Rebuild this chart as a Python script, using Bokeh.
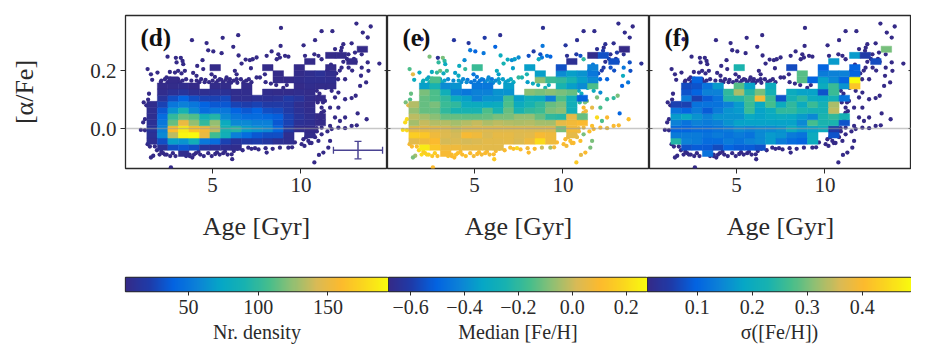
import numpy as np
from bokeh.plotting import figure
from bokeh.layouts import row, column
from bokeh.models import LinearColorMapper, FixedTicker, Label, Span, ColumnDataSource
from bokeh.embed import file_html
from bokeh.resources import INLINE

N = None
# grid of the binned maps
x_start, x_step = 1.28, 0.595
y_start, y_step = -0.0966, 0.02115

counts = [
 [N,N,N,8,N,N,N,N,N,N,N,N,N,N,N,N,N,N,N,N,N],
 [N,12,30,35,30,15,12,10,8,N,N,N,N,N,N,N,N,N,N,N,N],
 [10,30,70,65,85,50,45,25,15,20,22,18,12,10,N,N,N,N,N,N,N],
 [12,60,135,190,195,150,105,85,55,45,35,30,30,10,N,7,N,N,N,N,N],
 [15,55,160,185,165,155,135,90,95,70,65,60,42,20,8,6,N,N,N,N,N],
 [12,50,115,150,125,100,125,80,60,60,55,55,35,25,12,10,6,N,N,N,N],
 [10,45,100,115,110,85,95,60,50,45,45,42,38,25,15,10,6,N,N,N,N],
 [10,35,65,90,60,45,50,50,40,35,40,30,28,20,12,8,N,N,N,N,N],
 [8,25,50,55,50,40,35,35,25,22,25,20,20,18,10,7,N,N,N,N,N],
 [N,15,30,40,30,25,25,28,10,10,12,12,13,20,15,8,6,N,N,N,N],
 [N,8,12,15,10,10,12,12,8,8,N,8,7,7,8,7,N,N,N,N,N],
 [N,6,7,8,6,N,7,7,N,6,N,N,N,N,6,8,7,7,N,N,N],
 [N,N,6,N,N,N,N,N,N,N,N,N,6,6,8,10,10,9,N,N,N],
 [N,N,N,N,N,N,N,N,N,N,N,N,6,N,7,9,12,8,N,N,N],
 [N,N,N,N,N,N,6,N,N,N,N,6,N,N,6,N,N,6,N,N,N],
 [N,N,N,N,N,N,N,N,N,N,N,N,N,N,N,6,N,N,N,6,N],
 [N,N,N,N,N,N,N,N,N,N,N,N,N,N,N,N,N,6,6,N,N],
 [N,N,N,N,N,N,N,N,N,N,N,N,N,N,N,N,N,N,N,N,6],
]
median_feh = [
 [N,N,N,.09,N,N,N,N,N,N,N,N,N,N,N,N,N,N,N,N,N],
 [N,.24,.14,.07,.07,.05,.05,.04,.04,N,N,N,N,N,N,N,N,N,N,N,N],
 [.04,.07,.1,.01,.02,.01,.02,.04,.04,.05,.02,.07,.2,.07,N,N,N,N,N,N,N],
 [.16,.14,.07,.03,.01,.09,.07,.02,.05,.05,.03,.04,.09,.07,N,.05,N,N,N,N,N],
 [.05,.05,.04,.02,.0,.02,.03,.03,.03,.03,.03,.02,.02,.03,-.1,.08,N,N,N,N,N],
 [-.05,-.01,-.03,-.03,-.05,-.03,-.01,-.04,-.02,-.03,-.04,-.03,-.05,-.05,.05,.08,.1,N,N,N,N],
 [-.02,-.05,-.08,-.12,-.12,-.13,-.13,-.12,-.1,-.1,-.07,-.07,-.12,-.2,-.22,.05,-.12,N,N,N,N],
 [-.07,-.12,-.12,-.2,-.25,-.25,-.25,-.15,-.25,-.12,-.25,-.2,-.18,-.1,-.08,-.28,N,N,N,N,N],
 [-.03,-.12,-.1,-.18,-.2,-.3,-.3,-.32,-.3,-.15,-.3,-.25,-.2,-.12,-.1,-.28,N,N,N,N,N],
 [N,-.12,-.15,-.2,-.3,-.35,-.42,-.38,-.38,-.17,-.35,-.28,-.3,-.42,-.15,-.28,-.5,N,N,N,N],
 [N,-.1,-.15,-.28,-.42,-.45,-.42,-.42,-.38,-.38,N,-.08,-.1,-.08,-.1,-.12,N,N,N,N,N],
 [N,-.35,-.25,-.4,-.38,N,-.45,-.45,N,-.35,N,N,N,N,-.25,-.35,-.4,-.15,N,N,N],
 [N,N,-.15,N,N,N,N,N,N,N,N,N,-.08,-.18,-.2,-.25,-.35,-.4,N,N,N],
 [N,N,N,N,N,N,N,N,N,N,N,N,-.35,N,-.4,-.35,-.38,-.45,N,N,N],
 [N,N,N,N,N,N,-.18,N,N,N,N,-.35,N,N,-.55,N,N,-.42,N,N,N],
 [N,N,N,N,N,N,N,N,N,N,N,N,N,N,N,-.65,N,N,N,-.55,N],
 [N,N,N,N,N,N,N,N,N,N,N,N,N,N,N,N,N,-.67,-.55,N,N],
 [N,N,N,N,N,N,N,N,N,N,N,N,N,N,N,N,N,N,N,N,-.68],
]
sigma_feh = [
 [N,N,N,.12,N,N,N,N,N,N,N,N,N,N,N,N,N,N,N,N,N],
 [N,.08,.09,.09,.07,.1,.09,.09,.08,N,N,N,N,N,N,N,N,N,N,N,N],
 [.24,.14,.13,.11,.11,.13,.12,.14,.15,.17,.13,.11,.1,.2,N,N,N,N,N,N,N],
 [.13,.13,.13,.12,.13,.12,.13,.12,.15,.17,.16,.13,.12,.2,N,.08,N,N,N,N,N],
 [.1,.1,.11,.11,.12,.13,.15,.14,.15,.15,.16,.2,.17,.18,.2,.05,N,N,N,N,N],
 [.14,.12,.14,.13,.14,.16,.18,.18,.18,.18,.18,.18,.15,.27,.23,.23,.08,N,N,N,N],
 [.17,.19,.16,.14,.16,.16,.16,.19,.18,.19,.2,.19,.17,.15,.23,.25,.22,N,N,N,N],
 [.12,.1,.13,.09,.13,.16,.17,.26,.18,.2,.25,.25,.23,.22,.22,.34,N,N,N,N,N],
 [.06,.06,.12,.12,.12,.14,.17,.26,.19,.27,.2,.25,.2,.26,.22,.33,N,N,N,N,N],
 [N,.13,.06,.09,.12,.24,.24,.27,.39,.26,.08,.22,.25,.2,.19,.22,.12,N,N,N,N],
 [N,.08,.1,.14,.14,.25,.33,.24,.3,.22,N,.2,.18,.18,.08,.26,N,N,N,N,N],
 [N,.07,.08,.12,.17,N,.28,.18,N,.2,N,N,N,N,.2,.26,.16,.42,N,N,N],
 [N,N,.1,N,N,N,N,N,N,N,N,N,.28,.1,.18,.15,.1,.49,N,N,N],
 [N,N,N,N,N,N,N,N,N,N,N,N,.28,N,.13,.14,.14,.1,N,N,N],
 [N,N,N,N,N,N,.23,N,N,N,N,.07,N,N,.1,N,N,.1,N,N,N],
 [N,N,N,N,N,N,N,N,N,N,N,N,N,N,N,.17,N,N,N,.07,N],
 [N,N,N,N,N,N,N,N,N,N,N,N,N,N,N,N,N,.17,.05,N,N],
 [N,N,N,N,N,N,N,N,N,N,N,N,N,N,N,N,N,N,N,N,.3],
]

star_age = [
 8.87,13.14,13.95,11.17,11.78,13.5,13.78,6.45,5.57,3.83,
 2.0,4.66,6.17,8.85,10.15,10.8,12.4,12.87,12.31,4.75,
 5.04,5.51,8.34,6.47,8.72,2.45,2.92,3.2,3.3,4.43,
 4.13,2.96,3.34,1.32,1.51,1.88,2.58,2.87,3.05,3.24,
 3.43,4.47,3.9,4.09,4.94,1.58,2.07,2.39,6.87,6.64,
 7.11,7.49,7.27,7.17,6.26,6.36,5.79,5.98,6.36,5.13,
 5.41,7.68,7.96,7.49,9.1,9.29,8.81,8.06,8.63,10.76,
 10.99,10.23,11.17,11.93,12.27,12.69,13.06,13.44,13.78,14.44,
 13.44,13.82,13.4,13.69,13.35,13.1,12.87,12.5,12.12,11.74,
 11.93,11.65,11.36,11.17,11.17,12.12,12.5,13.21,13.72,11.93,
 12.21,11.65,11.74,12.12,12.5,12.87,13.16,11.17,10.89,10.42,
 10.14,11.17,10.99,11.65,11.55,11.27,11.02,10.76,10.04,9.66,
 9.29,8.81,8.06,7.4,7.02,6.08,6.11,2.64,1.64,1.51,
 1.17,1.07,.94,1.17,1.32,1.45,1.73,
 1.85,2.0,2.2,2.4,2.6,2.75,2.9,3.5,3.7,3.85,
 4.05,4.3,4.5,4.75,4.95,5.15,5.4,5.6,5.85,6.4,
 6.7,7.2,7.6,8.0,8.4,9.5,10.2,10.5,
 2.1,2.3,3.3,3.5,3.8,4.1,4.35,4.6,4.8,5.0,
 5.3,5.6,5.9,6.2,6.6,6.9,7.2,
 1.1,1.35,1.4,1.25,
 10.9,11.0,11.3,11.4,11.1,11.25,11.5,10.7,10.8,10.9,
 10.6,10.3,12.0,12.2,12.1,12.3,12.4,12.6,12.7,12.5,
 12.9,13.0,13.1,11.9,11.7,11.5,
 2.6,2.85,3.05,3.15,2.45,4.25,4.55,5.2,5.5,5.75,
 6.05,6.4,6.75,7.05,8.0,8.3,9.0,8.6,9.2,2.1,
 2.3,3.7,4.2,5.25,5.7,6.2,3.95,10.95,11.15,11.05,
 11.25,11.3,
]
star_alpha = [
 .347,.362,.352,.336,.336,.331,.314,.322,.313,.305,
 .308,.295,.282,.285,.287,.305,.291,.294,.279,.27,
 .266,.26,.266,.252,.256,.248,.244,.244,.233,.236,
 .216,.228,.222,.205,.187,.193,.195,.193,.199,.19,
 .199,.205,.192,.182,.187,.168,.161,.176,.238,.224,
 .236,.245,.239,.208,.199,.187,.176,.17,.17,.178,
 .17,.176,.187,.176,.251,.248,.245,.251,.239,.256,
 .251,.251,.239,.274,.268,.256,.262,.256,.228,.224,
 .21,.199,.182,.159,.147,.113,.105,.101,.124,.13,
 .107,.072,.095,.072,.055,.072,.038,.052,.032,.038,
 .026,.009,-.002,.003,.001,.009,.011,.003,.001,-.043,
 -.037,-.02,-.043,-.043,-.066,-.083,-.091,-.117,-.054,-.048,
 -.066,-.066,-.083,-.068,-.066,-.089,-.106,-.134,-.094,-.1,
 .032,.021,-.005,-.006,-.054,-.062,-.062,
 -.075,-.09,-.085,-.09,-.095,-.085,-.095,-.095,-.09,-.1,
 -.085,-.09,-.095,-.085,-.095,-.088,-.09,-.085,-.09,-.07,
 -.075,-.07,-.072,-.068,-.07,-.065,-.06,-.05,
 .165,.17,.165,.17,.165,.165,.17,.168,.16,.165,
 .165,.16,.16,.165,.17,.165,.16,
 .09,.1,.12,.08,
 .13,.11,.15,.14,.03,.02,-.01,-.02,-.03,-.01,
 -.05,-.03,.19,.2,.17,.21,.23,.24,.21,.17,
 .2,.24,.23,.25,.22,.2,
 .172,.165,.17,.16,.16,.16,.16,.158,.168,.168,
 .158,.158,.16,.17,.16,.155,.14,.15,.15,-.08,
 -.09,-.095,-.08,-.082,-.08,-.078,-.09,.09,.05,.12,
 .09,.06,
]
star_feh = [
 -.65,-.67,-.68,-.67,-.67,-.67,-.67,-.65,-.6,-.62,
 -.6,-.62,-.5,-.45,-.62,-.65,-.65,-.66,-.66,-.45,
 -.5,-.45,-.6,-.3,-.55,-.1,-.65,-.1,-.2,-.4,
 -.3,-.2,-.3,-.15,.05,-.3,-.3,-.2,-.12,-.3,
 -.2,-.2,-.35,-.3,-.45,-.3,-.25,-.35,-.3,-.25,
 -.4,-.4,-.35,-.35,-.3,-.35,-.4,-.45,-.35,-.45,
 -.4,-.25,-.25,-.2,-.45,-.5,-.45,-.55,-.3,-.6,
 -.55,-.65,-.2,-.65,-.6,-.65,-.6,-.65,-.55,-.65,
 -.45,-.55,-.3,-.45,-.5,-.1,-.2,-.2,-.4,-.3,
 -.1,.05,-.1,.1,.08,-.15,.1,-.5,.12,.2,
 -.15,.12,.1,.1,.05,.1,.1,.08,.05,.12,
 .1,-.1,.12,-.1,-.1,.1,.05,.15,.1,.1,
 -.05,0,.1,.2,.12,.1,.15,.1,-.05,-.1,
 .2,.2,.2,.2,.1,.1,.12,
 .18,.2,.16,.18,.14,.16,.12,.14,.12,.1,
 .12,.1,.12,.1,.08,.1,.08,.1,.08,.12,
 .1,.12,.1,.08,.1,.08,.08,.08,
 -.3,-.3,-.35,-.4,-.4,-.35,-.4,-.45,-.45,-.45,
 -.45,-.4,-.4,-.4,-.35,-.35,-.3,
 -.1,-.15,-.12,.05,
 -.3,-.2,-.4,-.3,.1,.1,.12,.05,.05,.08,
 .1,.08,-.55,-.6,-.5,-.6,-.65,-.62,-.55,-.5,
 -.55,-.62,-.6,-.55,-.45,-.5,
 -.3,-.35,-.35,-.3,-.25,-.4,-.4,-.45,-.45,-.4,
 -.4,-.35,-.35,-.3,-.35,-.3,-.25,-.3,-.3,.16,
 .18,.1,.1,.1,.1,.1,.12,-.2,.05,-.3,
 -.1,.08,
]

age_ticks = [5, 10]
alpha_ticks = [0.0, 0.2]
alpha_labels = ["0.0", "0.2"]
density_ticks = [50, 100, 150]
median_ticks = [-0.6, -0.4, -0.2, 0.0, 0.2]
sigma_ticks = [0.1, 0.2, 0.3, 0.4]
median_labels = ["\u22120.6", "\u22120.4", "\u22120.2", "0.0", "0.2"]
err_age, err_alpha, err_dage, err_dalpha = 13.23, -0.0747, 1.39, 0.03

ranges = [(4.9, 193.4), (-0.682, 0.279), (0.0096, 0.4896)]
panel_names = ["(d)", "(e)", "(f)"]
cbar_titles = ["Nr. density", "Median [Fe/H]", "\u03c3([Fe/H])"]

anchors = [(53,42,135),(30,60,170),(3,99,225),(12,130,215),(6,167,198),(24,178,176),
           (70,190,140),(146,191,115),(217,186,86),(252,186,46),(250,215,30),(249,251,14)]
pos = np.linspace(0, 1, len(anchors))
palette = []
for t in np.linspace(0, 1, 256):
    rgb = [int(round(np.interp(t, pos, [a[i] for a in anchors]))) for i in range(3)]
    palette.append("#%02x%02x%02x" % tuple(rgb))
NAVY = "#352a87"
FONT = "Liberation Serif"
INK = "#2a2a2a"
XMIN, XMAX = 0.07, 14.9

def panel(i, grid, left):
    mapper = LinearColorMapper(palette=palette, low=ranges[i][0], high=ranges[i][1])
    p = figure(frame_width=262, frame_height=153, x_range=(XMIN, XMAX), y_range=(-0.138, 0.39),
               output_backend="svg", toolbar_location=None, tools="",
               min_border_left=left, min_border_right=0, min_border_top=15, min_border_bottom=102)
    p.grid.visible = False
    p.outline_line_color = INK
    p.outline_line_width = 1.3
    x = p.xaxis[0]
    x.ticker = FixedTicker(ticks=age_ticks)
    x.axis_label = "Age [Gyr]"
    x.axis_label_text_font = FONT
    x.axis_label_text_font_style = "normal"
    x.axis_label_text_font_size = "26px"
    x.axis_label_text_color = INK
    x.axis_label_standoff = 17
    x.major_label_text_font = FONT
    x.major_label_text_font_size = "21px"
    x.major_label_text_color = INK
    x.major_label_standoff = 4
    x.minor_tick_line_color = None
    x.major_tick_in = 0
    x.major_tick_out = 5
    x.axis_line_color = None
    x.major_tick_line_color = INK
    if i == 0:
        y = p.yaxis[0]
        y.ticker = FixedTicker(ticks=alpha_ticks)
        y.major_label_overrides = dict(zip(alpha_ticks, alpha_labels))
        y.minor_tick_line_color = None
        y.axis_line_color = None
        y.major_tick_line_color = INK
        y.axis_label = "[\u03b1/Fe]"
        y.axis_label_text_font = FONT
        y.axis_label_text_font_style = "normal"
        y.axis_label_text_font_size = "26px"
        y.axis_label_text_color = INK
        y.axis_label_standoff = 48
        y.major_label_text_font = FONT
        y.major_label_text_font_size = "21px"
        y.major_label_text_color = INK
        y.major_label_standoff = 4
        y.major_tick_in = 0
        y.major_tick_out = 5
    else:
        p.yaxis.visible = False

    star_src = dict(x=star_age, y=star_alpha, c=star_feh)
    if i == 1:
        p.scatter("x", "y", source=ColumnDataSource(star_src), size=4.3, line_color=None,
                  fill_color={"field": "c", "transform": LinearColorMapper(palette=palette, low=ranges[1][0], high=ranges[1][1])})
    else:
        p.scatter("x", "y", source=ColumnDataSource(star_src), size=4.3, line_color=None, fill_color=NAVY)

    left_e, right_e, bot, top, vals = [], [], [], [], []
    for ri, rw in enumerate(grid):
        for ci, v in enumerate(rw):
            if v is not None:
                left_e.append(x_start + ci * x_step)
                right_e.append(x_start + (ci + 1) * x_step)
                bot.append(y_start + ri * y_step)
                top.append(y_start + (ri + 1) * y_step)
                vals.append(v)
    p.quad(left="l", right="r", bottom="b", top="t",
           source=ColumnDataSource(dict(l=left_e, r=right_e, b=bot, t=top, v=vals)),
           line_color={"field": "v", "transform": mapper}, line_width=0.5,
           fill_color={"field": "v", "transform": mapper})
    p.add_layout(Span(location=0, dimension="width", line_color="#999999", line_width=1.3, line_alpha=0.55))
    # inward y ticks on the shared edges
    tick_len = 3 * (XMAX - XMIN) / 262
    if i > 0:
        p.segment([XMIN] * 2, alpha_ticks, [XMIN + tick_len] * 2, alpha_ticks, line_color=INK, line_width=1)
    p.segment([XMAX - tick_len] * 2, alpha_ticks, [XMAX] * 2, alpha_ticks, line_color=INK, line_width=1)
    if i == 0:
        col = "#4a4392"
        p.segment([err_age - err_dage, err_age], [err_alpha, err_alpha - err_dalpha],
                  [err_age + err_dage, err_age], [err_alpha, err_alpha + err_dalpha],
                  line_color=col, line_width=1.5)
        p.scatter([err_age - err_dage, err_age + err_dage], [err_alpha, err_alpha], marker="dash",
                  angle=np.pi / 2, size=7, line_color=col, line_width=1.3)
        p.scatter([err_age, err_age], [err_alpha - err_dalpha, err_alpha + err_dalpha], marker="dash",
                  size=7, line_color=col, line_width=1.3)
    p.add_layout(Label(x=15, y=118, x_units="screen", y_units="screen", text=panel_names[i],
                       text_font=FONT, text_font_style="bold", text_font_size="25px", text_color="#111111"))
    return p

def cbar(i, left, width, ticks, labels=None):
    lo, hi = ranges[i]
    mapper = LinearColorMapper(palette=palette, low=lo, high=hi)
    p = figure(frame_width=width, frame_height=14, x_range=(lo, hi), y_range=(0, 1),
               output_backend="svg", toolbar_location=None, tools="",
               min_border_left=left, min_border_right=0, min_border_top=7, min_border_bottom=60)
    p.grid.visible = False
    p.outline_line_color = INK
    p.outline_line_width = 1.3
    p.yaxis.visible = False
    p.image(image=[np.linspace(lo, hi, 256)[None, :]], x=lo, y=0, dw=hi - lo, dh=1, color_mapper=mapper)
    x = p.xaxis[0]
    x.ticker = FixedTicker(ticks=ticks)
    if labels:
        x.major_label_overrides = dict(zip(ticks, labels))
    x.axis_label = cbar_titles[i]
    x.axis_label_text_font = FONT
    x.axis_label_text_font_style = "normal"
    x.axis_label_text_font_size = "20px"
    x.axis_label_text_color = INK
    x.axis_label_standoff = 4
    x.major_label_text_font = FONT
    x.major_label_text_font_size = "20px"
    x.major_label_text_color = INK
    x.major_label_standoff = 4
    x.minor_tick_line_color = None
    x.major_tick_in = 0
    x.major_tick_out = 4
    x.axis_line_color = None
    x.major_tick_line_color = INK
    return p

top_row = row(panel(0, counts, 125), panel(1, median_feh, 0), panel(2, sigma_feh, 0), spacing=0)
bot_row = row(cbar(0, 125, 263, density_ticks), cbar(1, 0, 259, median_ticks, median_labels), cbar(2, 0, 264, sigma_ticks), spacing=0)
page = column(top_row, bot_row, spacing=0)
open("out.html", "w").write(file_html(page, INLINE))
